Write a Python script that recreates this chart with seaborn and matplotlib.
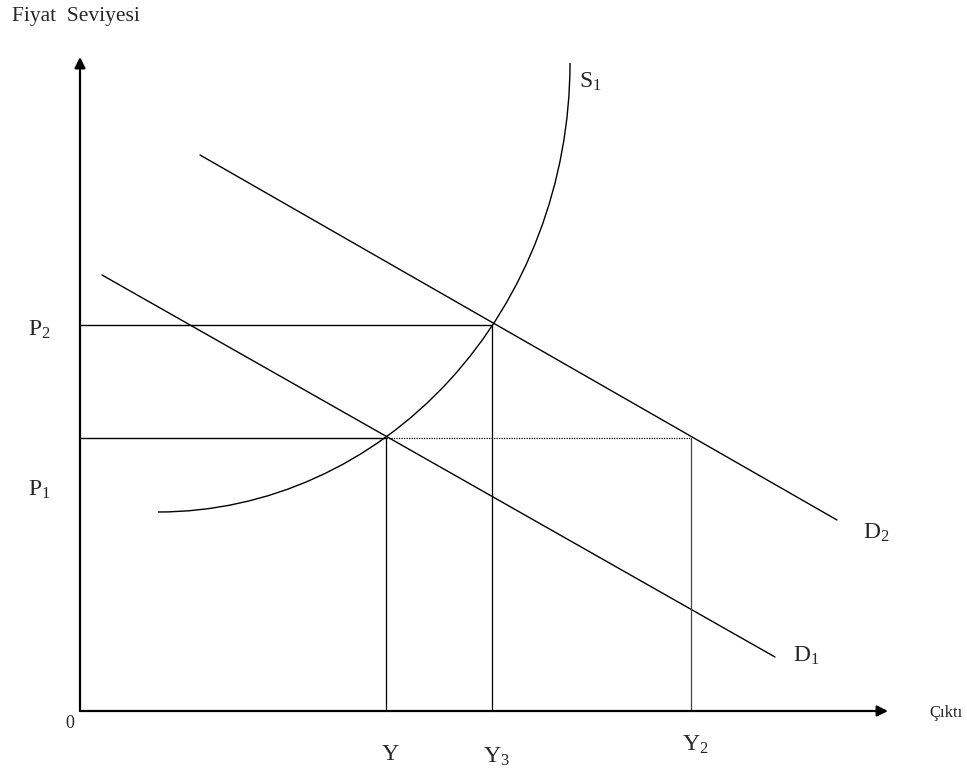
import matplotlib
matplotlib.use("Agg")
import matplotlib.pyplot as plt
from matplotlib.patches import Arc
import numpy as np
import pandas as pd
import seaborn as sns

# values (origin at the axes corner)
output_labels = ["Y", "Y$_3$", "Y$_2$"]
output_vals = [306, 412, 611]
price_labels = ["P$_1$", "P$_2$"]
price_vals = [273, 386]

d1_x = [22, 695]
d1_y = [436, 54]
d2_x = [120, 757]
d2_y = [556, 191]

# S1: quarter ellipse (centre, width, height)
s1_center = (78, 648)
s1_size = (824, 898)

sns.set_style("white")
plt.rcParams["font.family"] = ["Liberation Serif", "DejaVu Serif"]
plt.rcParams["mathtext.fontset"] = "custom"
plt.rcParams["mathtext.rm"] = "Liberation Serif"
plt.rcParams["mathtext.default"] = "regular"

fig = plt.figure(figsize=(9.67, 7.75), dpi=100)
ax = fig.add_axes([0, 0, 1, 1])
ax.set_xlim(-80, 887)
ax.set_ylim(-64, 711)
ax.axis("off")

# demand curves
dem = pd.DataFrame({
    "x": d1_x + d2_x,
    "y": d1_y + d2_y,
    "curve": ["D1"] * 2 + ["D2"] * 2,
})
sns.lineplot(data=dem, x="x", y="y", units="curve", estimator=None,
             color="black", lw=1.0, ax=ax, legend=False)

# supply curve
ax.add_patch(Arc(s1_center, s1_size[0], s1_size[1], theta1=270, theta2=360,
                 color="black", lw=1.0))

# guide lines
p1, p2 = price_vals
y1, y3, y2 = output_vals
ax.plot([0, y3], [p2, p2], color="black", lw=1.0)
ax.plot([0, y1], [p1, p1], color="black", lw=1.0)
ax.plot([y1, y2], [p1, p1], color="black", lw=0.9, ls=(0, (1, 1)))
ax.plot([y1, y1], [0, p1], color="black", lw=0.9)
ax.plot([y3, y3], [0, p2], color="black", lw=0.9)
ax.plot([y2, y2], [0, p1], color="#444444", lw=0.9)

# axes with arrows
arrow = dict(arrowstyle="-|>", color="black", lw=1.6, mutation_scale=16,
             shrinkA=0, shrinkB=0)
ax.annotate("", xy=(0, 654), xytext=(0, 0), arrowprops=arrow)
ax.annotate("", xy=(808, 0), xytext=(0, 0), arrowprops=arrow)

fs = 17
ax.text(-68, 694, "Fiyat  Seviyesi", fontsize=15.5, va="center", ha="left")
ax.text(883, -2, "Çıktı", fontsize=12, va="center", ha="right")
ax.text(-10, -12, "0", fontsize=13, va="center", ha="center")

for lab, v, dy in zip(output_labels, output_vals, [-44, -46, -34]):
    ax.text(v + 4, dy, lab, fontsize=fs, ha="center", va="center")
for lab, v, dy in zip(price_labels, price_vals, [-52, -5]):
    ax.text(-41, v + dy, lab, fontsize=fs, ha="center", va="center")

ax.text(510, 629, "S$_1$", fontsize=fs, ha="center", va="center")
ax.text(796, 178, "D$_2$", fontsize=fs, ha="center", va="center")
ax.text(726, 55, "D$_1$", fontsize=fs, ha="center", va="center")

fig.savefig("out.png", dpi=100)
